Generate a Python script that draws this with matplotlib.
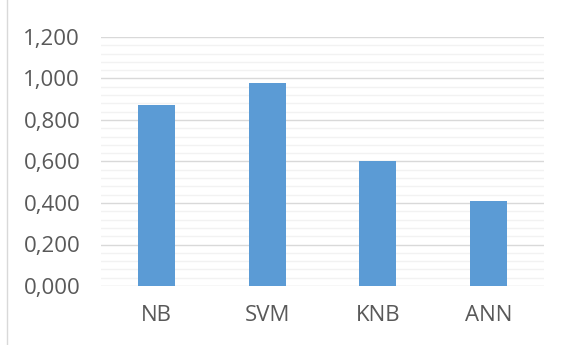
import matplotlib.pyplot as plt
from matplotlib.ticker import FuncFormatter, MultipleLocator
from matplotlib.lines import Line2D

categories = ['NB', 'SVM', 'KNB', 'ANN']
values = [0.872, 0.978, 0.602, 0.411]

plt.rcParams['font.family'] = ['Open Sans', 'DejaVu Sans']

fig = plt.figure(figsize=(5.68, 3.45), dpi=100)
ax = fig.add_axes([101/568, 1 - 286/345, 443/568, 249/345])

ax.bar(categories, values, width=0.334, color='#5B9BD5', zorder=3)
ax.set_ylim(0, 1.2)
ax.set_xlim(-0.5, 3.5)
ax.yaxis.set_major_locator(MultipleLocator(0.2))
ax.yaxis.set_minor_locator(MultipleLocator(0.04))
ax.yaxis.set_major_formatter(FuncFormatter(lambda v, p: f'{v:.3f}'.replace('.', ',')))
ax.grid(axis='y', which='major', color='#D9D9D9', linewidth=1.0, zorder=1)
ax.grid(axis='y', which='minor', color='#F2F2F2', linewidth=1.0, zorder=1)
for s in ax.spines.values():
    s.set_visible(False)
ax.tick_params(axis='both', which='both', length=0, labelsize=16, colors='#595959')
ax.tick_params(axis='y', pad=15)
ax.tick_params(axis='x', pad=14)

fig.add_artist(Line2D([7/568, 7/568], [0, 1], color='#D9D9D9', linewidth=1.0))

fig.savefig('out.png', dpi=100)
